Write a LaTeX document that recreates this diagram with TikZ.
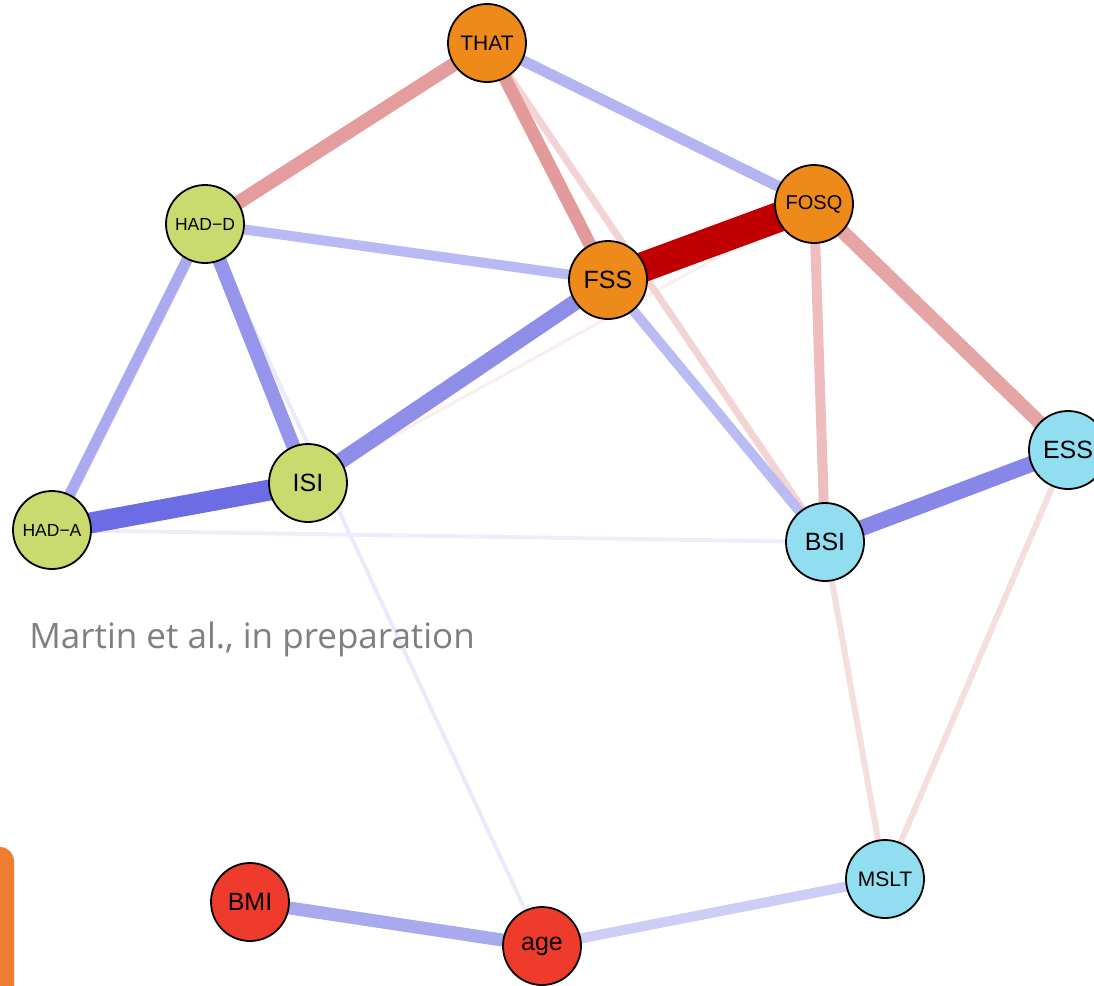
\documentclass[tikz,border=0pt]{standalone}
\usepackage{fontspec}
\setmainfont{Liberation Sans}
\newfontfamily\capfont{Open Sans}
\usetikzlibrary{backgrounds}
\definecolor{norange}{HTML}{EE8A1A}
\definecolor{ngreen}{HTML}{C9DA6E}
\definecolor{ncyan}{HTML}{90DEEF}
\definecolor{nred}{HTML}{EF3B2C}
\definecolor{capgray}{HTML}{7F7F7F}
\definecolor{barorange}{HTML}{ED7D31}
\tikzset{
  vnode/.style={circle, draw=black, line width=1.8pt, minimum size=78pt, inner sep=0pt, text=black},
  onode/.style={vnode, fill=norange},
  gnode/.style={vnode, fill=ngreen},
  cnode/.style={vnode, fill=ncyan},
  rnode/.style={vnode, fill=nred},
  fs/.style={font=\fontsize{#1}{#1}\selectfont},
  wedge/.style n args={2}{line width=#1pt, line cap=butt, /utils/exec={\definecolor{edgecol}{HTML}{#2}}, draw=edgecol},
}
\begin{document}
\begin{tikzpicture}[x=1pt, y=-1pt]
\useasboundingbox (0,0) rectangle (1094,985);
\clip (0,0) rectangle (1094,985);

% caption and orange bar
\node[anchor=base east, inner sep=0pt, text=capgray, font=\capfont\fontsize{35}{35}\selectfont] (cap) at (475,648) {Martin et al., in preparation};
\fill[barorange, rounded corners=14pt] (-40,847) rectangle (14,1010);

% nodes
\node[onode, fs=21] (THAT) at (487,43) {THAT};
\node[onode, fs=20] (FOSQ) at (814,204) {FOSQ};
\node[onode, fs=25] (FSS) at (608,280) {FSS};
\node[gnode, fs=17.5] (HADD) at (205,224) {HAD−D};
\node[gnode, fs=25] (ISI) at (308,483) {ISI};
\node[gnode, fs=17.5] (HADA) at (52,530) {HAD−A};
\node[cnode, fs=25] (BSI) at (825,542) {BSI};
\node[cnode, fs=25] (ESS) at (1068,450) {ESS};
\node[cnode, fs=21] (MSLT) at (885,879) {MSLT};
\node[rnode, fs=25] (BMI) at (250,902) {BMI};
\node[rnode, fs=25] (age) at (542,946) {age};

\begin{scope}[on background layer]
  \draw[wedge={3}{FBEEEE}] (FOSQ.center) -- (ISI.center);
  \draw[wedge={4}{EEEEFB}] (HADA.center) -- (BSI.center);
  \draw[wedge={4}{EAEAFC}] (HADD.center) -- (age.center);
  \draw[wedge={6}{F4DEDE}] (BSI.center) -- (MSLT.center);
  \draw[wedge={6}{F4DEDE}] (ESS.center) -- (MSLT.center);
  \draw[wedge={7}{F3D3D3}] (THAT.center) -- (BSI.center);
  \draw[wedge={10}{CDCDF5}] (age.center) -- (MSLT.center);
  \draw[wedge={10}{BBBBF3}] (FSS.center) -- (BSI.center);
  \draw[wedge={10}{B9B9F3}] (HADD.center) -- (FSS.center);
  \draw[wedge={11}{B4B4F2}] (THAT.center) -- (FOSQ.center);
  \draw[wedge={10}{EFBDBD}] (FOSQ.center) -- (BSI.center);
  \draw[wedge={11}{AAAAF0}] (HADD.center) -- (HADA.center);
  \draw[wedge={13}{A9A9EE}] (BMI.center) -- (age.center);
  \draw[wedge={14}{E59C9C}] (THAT.center) -- (HADD.center);
  \draw[wedge={13}{E39A9A}] (THAT.center) -- (FSS.center);
  \draw[wedge={14}{E6A5A5}] (FOSQ.center) -- (ESS.center);
  \draw[wedge={14}{9595EB}] (HADD.center) -- (ISI.center);
  \draw[wedge={16}{8E8EE9}] (FSS.center) -- (ISI.center);
  \draw[wedge={16}{8787E8}] (BSI.center) -- (ESS.center);
  \draw[wedge={21}{6C6CE4}] (HADA.center) -- (ISI.center);
  \draw[wedge={30}{C00000}] (FSS.center) -- (FOSQ.center);
\end{scope}
\end{tikzpicture}
\end{document}
